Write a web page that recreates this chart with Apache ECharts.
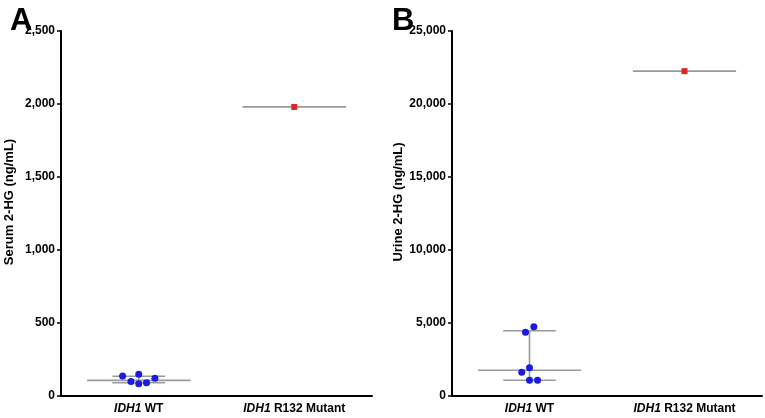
<!DOCTYPE html>
<html><head><meta charset="utf-8">
<script src="https://cdn.jsdelivr.net/npm/echarts@6/dist/echarts.min.js"></script>
<style>html,body{margin:0;padding:0;background:#fff}#c{width:765px;height:418px}</style>
</head><body><div id="c"></div>
<script>
// ---- data ----
const categories = ['WT', 'R132 Mutant'];
const serumWT = [137, 100, 149, 84, 91, 121];
const serumWTJitter = [-0.104, -0.05, 0, 0, 0.05, 0.104];
const serumWTSummary = {median: 107, upper: 135, lower: 91};
const serumMutant = [1980];
const urineWT = [4750, 4360, 1940, 1620, 1075, 1075];
const urineWTJitter = [0.028, -0.026, 0, -0.05, 0, 0.052];
const urineWTSummary = {median: 1760, upper: 4470, lower: 1075};
const urineMutant = [22250];
const serumTicks = [0, 500, 1000, 1500, 2000, 2500];
const urineTicks = [0, 5000, 10000, 15000, 20000, 25000];

const chart = echarts.init(document.getElementById('c'));
const FONT = 'Liberation Sans, Arial, sans-serif';
const BLUE = '#1a1ae0', RED = '#dd2228', GRAY = '#9a9a9a';

function fmt(v){ return v.toLocaleString('en-US'); }

function seg(gi, pts){
  return {type:'line', xAxisIndex: gi*2+1, yAxisIndex: gi, data: pts, symbol:'none',
    lineStyle:{color:GRAY, width:1.6}, silent:true, z:2, animation:false};
}
function panelSeries(gi, wt, jitter, summ, mut){
  const c0 = 0.5, c1 = 1.5, wide = 0.333, narrow = 0.17;
  const s = [];
  s.push(seg(gi, [[c0-wide, summ.median],[c0+wide, summ.median]]));
  s.push(seg(gi, [[c0-narrow, summ.upper],[c0+narrow, summ.upper]]));
  s.push(seg(gi, [[c0-narrow, summ.lower],[c0+narrow, summ.lower]]));
  s.push(seg(gi, [[c0, summ.lower],[c0, summ.upper]]));
  s.push(seg(gi, [[c1-wide, mut[0]],[c1+wide, mut[0]]]));
  s.push({type:'scatter', xAxisIndex: gi*2+1, yAxisIndex: gi,
    data: wt.map((v,i)=>[c0+jitter[i], v]), symbol:'circle', symbolSize:7,
    itemStyle:{color:BLUE, opacity:1}, z:5, animation:false});
  s.push({type:'scatter', xAxisIndex: gi*2+1, yAxisIndex: gi,
    data: mut.map(v=>[c1, v]), symbol:'rect', symbolSize:6,
    itemStyle:{color:RED, opacity:1}, z:5, animation:false});
  return s;
}
function catAxis(gi){
  return {type:'category', gridIndex:gi, data:categories, boundaryGap:true,
    axisLine:{lineStyle:{color:'#000', width:2}},
    axisTick:{alignWithLabel:true, length:5, lineStyle:{color:'#000', width:1.5}},
    axisLabel:{margin:7, interval:0, formatter: v => '{i|IDH1} {b|' + v + '}',
      rich:{i:{fontStyle:'italic', fontWeight:'bold', fontSize:12, fontFamily:FONT, color:'#000'},
            b:{fontWeight:'bold', fontSize:12, fontFamily:FONT, color:'#000'}}}};
}
function valXAxis(gi){
  return {type:'value', gridIndex:gi, min:0, max:2, show:false};
}
function yAxis(gi, ticks){
  return {type:'value', gridIndex:gi, min:ticks[0], max:ticks[ticks.length-1],
    interval: ticks[1]-ticks[0],
    axisLine:{show:true, lineStyle:{color:'#000', width:2}},
    axisTick:{show:true, length:4, lineStyle:{color:'#000', width:1.5}},
    axisLabel:{margin:6, formatter: fmt, fontWeight:'bold', fontSize:12, fontFamily:FONT, color:'#000'},
    splitLine:{show:false}};
}
function yName(x, text){
  return {type:'text', x:x, y:202, rotation:Math.PI/2,
    style:{text:text, fontSize:13, fontWeight:'bold', fontFamily:FONT, fill:'#000',
      align:'center', verticalAlign:'middle'}};
}

chart.setOption({
  animation:false,
  backgroundColor:'#fff',
  title:[
    {text:'A', left:5, top:1, textStyle:{fontSize:31, fontWeight:'bold', fontFamily:FONT, color:'#000'}},
    {text:'B', left:387, top:1, textStyle:{fontSize:31, fontWeight:'bold', fontFamily:FONT, color:'#000'}}
  ],
  grid:[
    {left:61, top:31, width:311, bottom:22},
    {left:452, top:31, width:310, bottom:22}
  ],
  xAxis:[catAxis(0), valXAxis(0), catAxis(1), valXAxis(1)],
  yAxis:[yAxis(0, serumTicks), yAxis(1, urineTicks)],
  graphic:[yName(9, 'Serum 2-HG (ng/mL)'), yName(398, 'Urine 2-HG (ng/mL)')],
  series:[].concat(
    panelSeries(0, serumWT, serumWTJitter, serumWTSummary, serumMutant),
    panelSeries(1, urineWT, urineWTJitter, urineWTSummary, urineMutant))
});
</script></body></html>
